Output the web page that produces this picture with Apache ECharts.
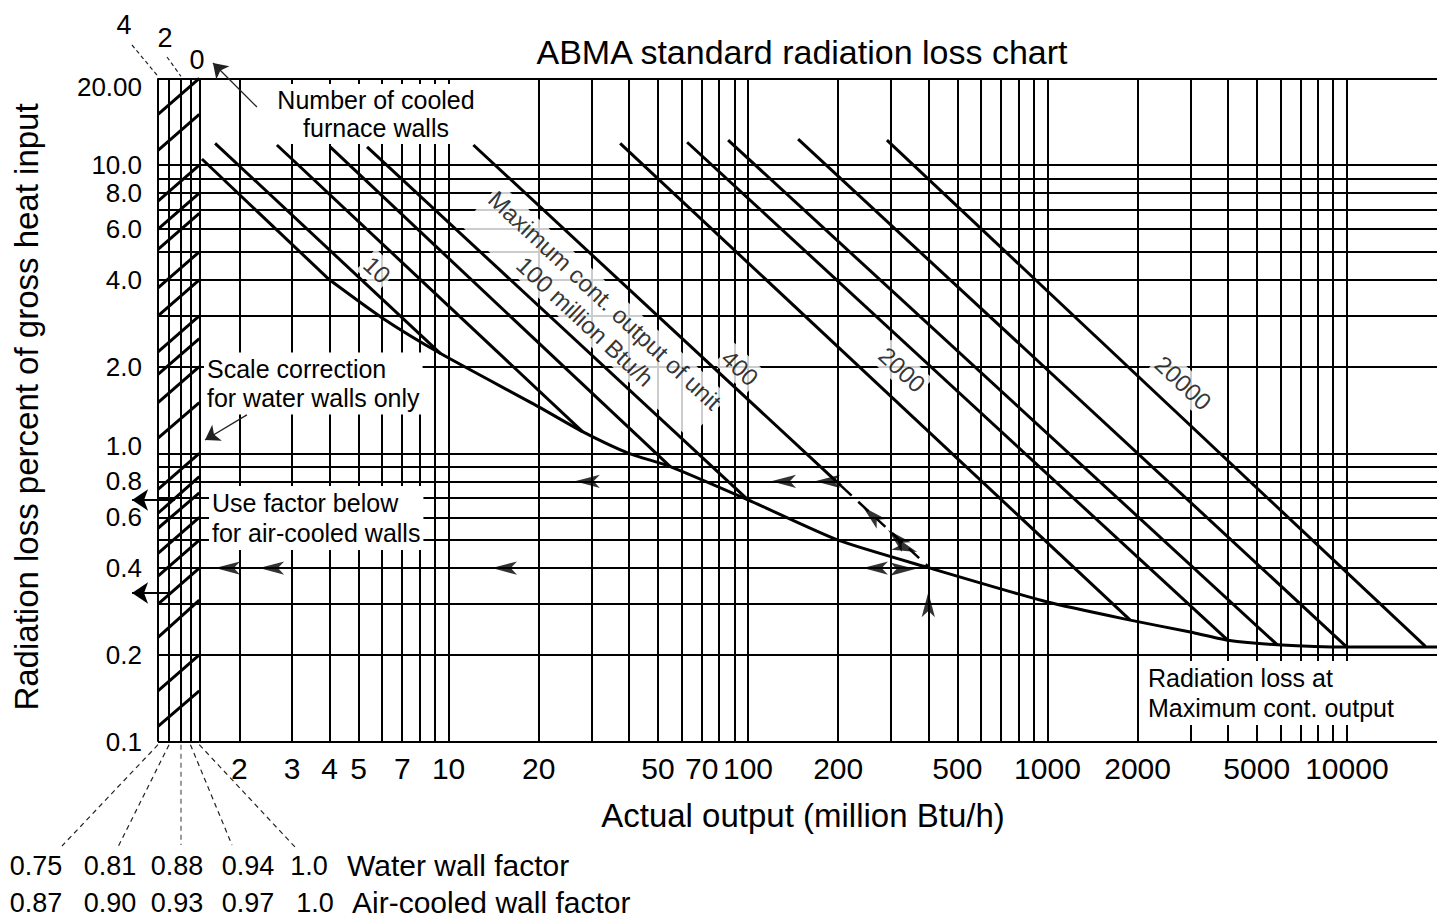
<!DOCTYPE html>
<html>
<head>
<meta charset="utf-8">
<script src="https://cdn.jsdelivr.net/npm/echarts@6/dist/echarts.min.js"></script>
<style>html,body{margin:0;padding:0;background:#fff}#c{width:1437px;height:920px}</style>
</head>
<body>
<div id="c"></div>
<script>
// ---------------- DATA ----------------
// Gridline values (log axes)
const xGridValues = [2,3,4,5,6,7,8,9,10,20,30,40,50,60,70,80,90,100,200,300,400,500,600,700,800,900,1000,2000,3000,4000,5000,6000,7000,8000,9000,10000];
const xTickLabels = [2,3,4,5,7,10,20,50,70,100,200,500,1000,2000,5000,10000];
const yGridValues = [0.1,0.2,0.3,0.4,0.5,0.6,0.7,0.8,0.9,1,2,3,4,5,6,7,8,9,10,20];
const yTickValues = [0.1,0.2,0.4,0.6,0.8,1,2,4,6,8,10,20];
const yTickLabels = ['0.1','0.2','0.4','0.6','0.8','1.0','2.0','4.0','6.0','8.0','10.0','20.00'];

// Scale-correction strip (wall factor columns)
const wallFactorCols = [0.75,0.81,0.88,0.94,1.0];
const waterWallFactors = ['0.75','0.81','0.88','0.94','1.0'];
const airWallFactors = ['0.87','0.90','0.93','0.97','1.0'];
const cooledWalls = ['4','2','0'];
const hatchRight = [20,15,10,8,6.8,5,4,3,2.5,2,1.5,1.0,0.83,0.73,0.6,0.5,0.4,0.31,0.2,0.15];
const hatchLeft  = [15,11.25,7.5,6,5.1,3.75,3,2.25,1.88,1.5,1.13,0.75,0.62,0.55,0.45,0.375,0.3,0.23,0.15,0.113];

// Max continuous output lines (straight in log-log)
const mcrNames  = ['4','10','28','55','100','400','2000','4000','6000','10000','20000'];
const mcrStartX = [1.5,1.66,2.67,4.02,5.34,12.1,37.4,62.6,85.8,147,291];
const mcrStartY = [10.5,11.9,11.74,11.56,11.56,11.74,11.9,12.0,12.2,12.3,12.2];
const mcrEndX   = [4.0,9.4,28,55,100,205,1890,4000,5850,10000,18300];
const mcrEndY   = [4.0,2.22,1.19,0.9,0.69,0.77,0.264,0.225,0.217,0.213,0.214];

// Radiation loss at maximum continuous output (envelope)
const envelopeX = [4,6,9.4,20,28,40,55,100,200,405,1000,1890,3000,4000,5850,10000,18300,20000];
const envelopeY = [4.0,2.95,2.22,1.45,1.19,1.0,0.9,0.69,0.50,0.40,0.305,0.264,0.24,0.225,0.217,0.213,0.213,0.213];

// Worked example (400 unit at 200 output)
const exampleDashX = [205,405];
const exampleDashY = [0.77,0.40];
const arrowLeftX04 = [1.66,2.33,13.96,242];
const arrowLeftX08 = [26.4,119.4,167.4];
const exampleArrowX = [242,293.5,367,362,400];
const exampleArrowY = [0.652,0.542,0.455,0.397,0.33];
const exampleArrowRot = [47,47,-110,-90,0];
const correctedStartF = [0.844,0.804];
const correctedEndF = [0.626,0.626];
const correctedY = [0.689,0.328];

// Line labels
const lineLabelText = ['10','400','2000','20000','Maximum cont. output of unit\n100 million Btu/h'];
const lineLabelX = [5.77,94.0,327,2840,30.8];
const lineLabelY = [4.33,1.98,1.95,1.755,3.12];

// ---------------- CHART ----------------
const FONT = '"Liberation Sans", Arial, Helvetica, sans-serif';
const BLACK = '#000';
const chart = echarts.init(document.getElementById('c'), null, {renderer: 'svg', width: 1437, height: 920});

const gridLine = {show: true, lineStyle: {color: BLACK, width: 2}};
const series = [];

hatchRight.forEach((v, i) => {
  series.push({type: 'line', xAxisIndex: 1, yAxisIndex: 1, silent: true, symbol: 'none', z: 3,
    data: [[wallFactorCols[0], hatchLeft[i]], [wallFactorCols[4], v]],
    lineStyle: {color: BLACK, width: 3}});
});

mcrStartX.forEach((x0, i) => {
  series.push({type: 'line', name: 'MCR ' + mcrNames[i], silent: true, symbol: 'none', z: 3,
    data: [[x0, mcrStartY[i]], [mcrEndX[i], mcrEndY[i]]],
    lineStyle: {color: BLACK, width: 3}});
});

series.push({type: 'line', name: 'example', silent: true, symbol: 'none', z: 3,
  data: exampleDashX.map((x, i) => [x, exampleDashY[i]]),
  lineStyle: {color: BLACK, width: 2.5, type: [14, 9]}});

series.push({type: 'line', name: 'Radiation loss at MCR', silent: true, symbol: 'none', z: 3,
  smooth: 0.2,
  data: envelopeX.map((x, i) => [x, envelopeY[i]]),
  lineStyle: {color: BLACK, width: 3}});

const arrowData = [];
arrowLeftX04.forEach(x => arrowData.push({value: [x, 0.4], symbolRotate: 90}));
arrowLeftX08.forEach(x => arrowData.push({value: [x, 0.8], symbolRotate: 90}));
exampleArrowX.forEach((x, i) => arrowData.push({value: [x, exampleArrowY[i]], symbolRotate: exampleArrowRot[i]}));
series.push({type: 'scatter', silent: true, symbol: 'arrow', symbolSize: [10, 25], z: 4,
  itemStyle: {color: BLACK}, data: arrowData});

series.push({type: 'lines', coordinateSystem: 'cartesian2d', xAxisIndex: 1, yAxisIndex: 1, clip: false, silent: true, z: 4,
  symbol: ['none', 'arrow'], symbolSize: 16,
  lineStyle: {color: BLACK, width: 2, opacity: 1, curveness: 0},
  data: correctedY.map((y, i) => ({coords: [[correctedStartF[i], y], [correctedEndF[i], y]]}))});

series.push({type: 'lines', coordinateSystem: 'cartesian2d', clip: false, silent: true, z: 4,
  symbol: ['none', 'arrow'], symbolSize: 14,
  lineStyle: {color: '#222', width: 1.3, opacity: 1, curveness: 0},
  data: [
    {coords: [[2.29, 15.9], [1.633, 22.6]]},
    {coords: [[2.12, 1.36], [1.536, 1.113]]}
  ]});

series.push({type: 'scatter', silent: true, symbolSize: 1, z: 2,
  itemStyle: {color: 'rgba(0,0,0,0)'},
  label: {show: true, position: 'inside', rotate: -43, fontSize: 24, fontFamily: FONT, color: BLACK,
    backgroundColor: '#fff', padding: [0, 2], lineHeight: 29, align: 'center',
    formatter: p => p.data.txt},
  data: lineLabelText.map((t, i) => ({value: [lineLabelX[i], lineLabelY[i]], txt: t}))});

function fmtY(v) {
  const i = yTickValues.findIndex(t => Math.abs(t - v) / t < 1e-6);
  if (i < 0) return '';
  const s = yTickLabels[i];
  if (i === yTickValues.length - 1) return '{dn|' + s + '}';
  if (s === '1.0') return '{up|' + s + '}';
  return s;
}

const labelFont = {fontSize: 26, fontFamily: FONT, color: BLACK};
const option = {
  animation: false,
  backgroundColor: '#fff',
  textStyle: {fontFamily: FONT, color: BLACK},
  grid: [
    {left: 199.3, right: 0, top: 78.3, bottom: 178.3, outerBoundsMode: 'none', containLabel: false},
    {left: 158, width: 41.3, top: 78.3, bottom: 178.3, outerBoundsMode: 'none', containLabel: false}
  ],
  xAxis: [
    {type: 'log', gridIndex: 0, logBase: 10, min: 1.47, max: 20000,
      axisLine: {show: false}, axisTick: {show: false, customValues: xGridValues},
      axisLabel: {show: true, customValues: xTickLabels, fontSize: 30, fontFamily: FONT, color: BLACK, margin: 12,
        formatter: v => String(Math.round(v))},
      splitLine: gridLine, minorTick: {show: false}, minorSplitLine: {show: false}},
    {type: 'log', gridIndex: 1, logBase: 10, min: 0.75, max: 1.0,
      axisLine: {show: false}, axisTick: {show: false, customValues: wallFactorCols},
      axisLabel: {show: false}, splitLine: gridLine}
  ],
  yAxis: [
    {type: 'log', gridIndex: 0, logBase: 10, min: 0.1, max: 20,
      axisLine: {show: false}, axisTick: {show: false, customValues: yGridValues},
      axisLabel: {show: false}, splitLine: gridLine},
    {type: 'log', gridIndex: 1, logBase: 10, min: 0.1, max: 20,
      axisLine: {show: false}, axisTick: {show: false, customValues: yGridValues},
      axisLabel: Object.assign({show: true, customValues: yTickValues, margin: 16, formatter: fmtY,
        rich: {
          dn: Object.assign({padding: [17, 0, 0, 0]}, labelFont),
          up: Object.assign({padding: [0, 0, 15, 0]}, labelFont)
        }}, labelFont),
      splitLine: gridLine}
  ],
  series: series
};
chart.setOption(option);

// ---------------- ANNOTATIONS (text & leaders) ----------------
function txt(text, x, y, size, align) {
  return {type: 'text', x: x, y: y, z: 1, silent: true,
    style: {text: text, fontSize: size, fontFamily: FONT, fill: BLACK,
      align: align || 'center', verticalAlign: 'middle'}};
}
function box(t) { t.style.backgroundColor = '#fff'; t.style.padding = [2, 3]; return t; }

const els = [];
els.push(txt('ABMA standard radiation loss chart', 802, 52, 34, 'center'));
const yName = txt('Radiation loss percent of gross heat input', 26, 407, 33, 'center');
yName.rotation = Math.PI / 2;
els.push(yName);
els.push(txt('Actual output (million Btu/h)', 803, 815, 33, 'center'));

const t1 = box(txt('Number of cooled\nfurnace walls', 376, 114, 25, 'center')); t1.style.lineHeight = 28; els.push(t1);
const t2 = box(txt('Scale correction\nfor water walls only', 204, 383.5, 25, 'left')); t2.style.lineHeight = 29; els.push(t2);
const t3 = box(txt('Use factor below\nfor air-cooled walls', 209, 518, 25, 'left')); t3.style.lineHeight = 30; els.push(t3);
const t4 = box(txt('Radiation loss at\nMaximum cont. output', 1145, 693, 25, 'left')); t4.style.lineHeight = 30; els.push(t4);

// cooled wall counts on top
const topLabelPos = [[124, 25], [165, 38], [197, 60]];
const topLeaderStart = [[132, 45], [167, 57], null];
const topCols = [0.75, 0.88, 1.0];
cooledWalls.forEach((w, i) => {
  els.push(txt(w, topLabelPos[i][0], topLabelPos[i][1], 27, 'center'));
  if (topLeaderStart[i]) {
    const p = chart.convertToPixel({gridIndex: 1}, [topCols[i], 20]);
    els.push({type: 'line', z: 1, silent: true,
      shape: {x1: topLeaderStart[i][0], y1: topLeaderStart[i][1], x2: p[0], y2: p[1] - 2},
      style: {stroke: '#222', lineWidth: 1.2, lineDash: [4, 3]}});
  }
});

// bottom factor labels and leaders
const factorLabelX1 = [36, 110, 177, 248, 309];
const factorLabelX2 = [36, 110, 177, 248, 315];
const leaderEnd = [[62, 846], [118, 847], [181, 845], [232, 845], [295, 847]];
wallFactorCols.forEach((f, i) => {
  const p = chart.convertToPixel({gridIndex: 1}, [f, 0.1]);
  els.push({type: 'line', z: 1, silent: true,
    shape: {x1: p[0], y1: p[1] + 3, x2: leaderEnd[i][0], y2: leaderEnd[i][1]},
    style: {stroke: i === 2 ? '#9a9a9a' : '#222', lineWidth: i === 2 ? 2 : 1.2, lineDash: [5, 4]}});
  els.push(txt(waterWallFactors[i], factorLabelX1[i], 866, 27, 'center'));
  els.push(txt(airWallFactors[i], factorLabelX2[i], 903, 27, 'center'));
});
els.push(txt('Water wall factor', 347, 865, 30, 'left'));
els.push(txt('Air-cooled wall factor', 352, 902, 30, 'left'));

chart.setOption({graphic: {elements: els}});
</script>
</body>
</html>
